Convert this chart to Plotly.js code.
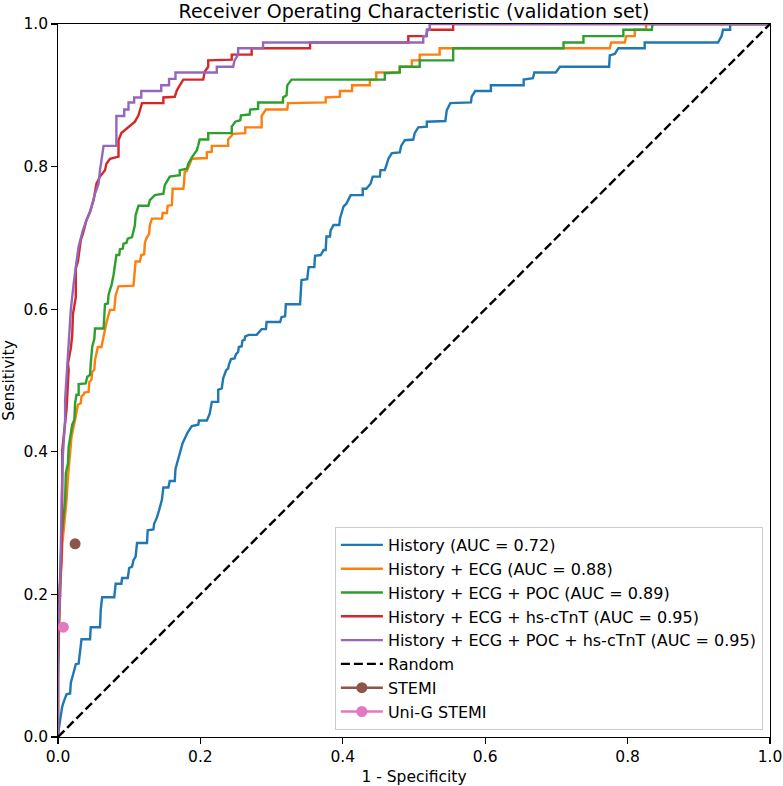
<!DOCTYPE html>
<html>
<head>
<meta charset="utf-8">
<script src="https://cdn.plot.ly/plotly-3.0.1.min.js"></script>
<style>
  html, body { margin: 0; padding: 0; background: #ffffff; }
  #chart { width: 783px; height: 786px; }
</style>
</head>
<body>
<div id="chart"></div>
<script>
// ROC curves on the validation set: false positive rate vs. true positive rate
const historyFpr = [0, 0.000, 0.003, 0.006, 0.009, 0.012, 0.017, 0.018, 0.021, 0.025, 0.029, 0.031, 0.033, 0.045, 0.046, 0.059, 0.060, 0.062, 0.079, 0.081, 0.089, 0.090, 0.098, 0.100, 0.104, 0.106, 0.109, 0.111, 0.125, 0.126, 0.134, 0.135, 0.139, 0.142, 0.146, 0.148, 0.155, 0.157, 0.164, 0.165, 0.170, 0.173, 0.175, 0.182, 0.188, 0.197, 0.198, 0.209, 0.213, 0.216, 0.225, 0.225, 0.230, 0.232, 0.236, 0.239, 0.240, 0.243, 0.248, 0.250, 0.253, 0.254, 0.258, 0.259, 0.262, 0.263, 0.268, 0.279, 0.286, 0.292, 0.293, 0.312, 0.314, 0.319, 0.320, 0.340, 0.341, 0.342, 0.350, 0.352, 0.360, 0.361, 0.369, 0.373, 0.376, 0.377, 0.382, 0.383, 0.387, 0.395, 0.396, 0.398, 0.401, 0.405, 0.411, 0.428, 0.428, 0.433, 0.439, 0.442, 0.452, 0.453, 0.459, 0.462, 0.464, 0.469, 0.480, 0.482, 0.487, 0.499, 0.501, 0.506, 0.518, 0.518, 0.544, 0.546, 0.551, 0.580, 0.581, 0.586, 0.608, 0.608, 0.654, 0.654, 0.667, 0.669, 0.699, 0.705, 0.774, 0.775, 0.782, 0.787, 0.824, 0.824, 0.927, 0.932, 0.934, 0.944, 0.944, 1.0];
const historyTpr = [0, 0.003, 0.024, 0.043, 0.052, 0.060, 0.061, 0.076, 0.087, 0.102, 0.103, 0.117, 0.137, 0.137, 0.154, 0.154, 0.178, 0.196, 0.196, 0.215, 0.215, 0.223, 0.223, 0.237, 0.239, 0.248, 0.253, 0.272, 0.272, 0.290, 0.291, 0.299, 0.308, 0.318, 0.333, 0.350, 0.350, 0.359, 0.359, 0.376, 0.393, 0.402, 0.412, 0.427, 0.436, 0.438, 0.444, 0.444, 0.453, 0.470, 0.470, 0.487, 0.489, 0.503, 0.514, 0.517, 0.522, 0.530, 0.531, 0.537, 0.540, 0.547, 0.548, 0.556, 0.557, 0.562, 0.564, 0.564, 0.572, 0.572, 0.582, 0.582, 0.589, 0.590, 0.607, 0.607, 0.632, 0.641, 0.642, 0.659, 0.659, 0.675, 0.676, 0.683, 0.683, 0.702, 0.702, 0.711, 0.718, 0.718, 0.727, 0.734, 0.744, 0.748, 0.760, 0.760, 0.769, 0.769, 0.776, 0.786, 0.786, 0.795, 0.795, 0.804, 0.811, 0.819, 0.820, 0.829, 0.837, 0.838, 0.847, 0.855, 0.856, 0.863, 0.864, 0.879, 0.889, 0.890, 0.898, 0.906, 0.906, 0.914, 0.914, 0.922, 0.924, 0.932, 0.932, 0.940, 0.940, 0.956, 0.958, 0.966, 0.966, 0.974, 0.974, 0.983, 0.992, 0.992, 1.000, 1.0];

const ecgFpr = [0, 0.000, 0.003, 0.006, 0.008, 0.010, 0.012, 0.014, 0.017, 0.019, 0.024, 0.026, 0.028, 0.032, 0.033, 0.036, 0.037, 0.043, 0.044, 0.047, 0.048, 0.051, 0.052, 0.054, 0.056, 0.061, 0.064, 0.066, 0.068, 0.073, 0.079, 0.081, 0.085, 0.106, 0.107, 0.109, 0.115, 0.117, 0.121, 0.122, 0.124, 0.128, 0.129, 0.132, 0.146, 0.147, 0.153, 0.154, 0.160, 0.161, 0.176, 0.177, 0.178, 0.181, 0.188, 0.209, 0.209, 0.216, 0.216, 0.239, 0.239, 0.246, 0.263, 0.263, 0.286, 0.286, 0.292, 0.322, 0.323, 0.376, 0.376, 0.396, 0.396, 0.413, 0.413, 0.438, 0.438, 0.447, 0.447, 0.480, 0.480, 0.497, 0.497, 0.508, 0.508, 0.536, 0.536, 0.775, 0.777, 0.796, 0.798, 0.810, 0.810, 0.826, 0.826, 1.0];
const ecgTpr = [0, 0.100, 0.200, 0.270, 0.290, 0.310, 0.332, 0.365, 0.393, 0.421, 0.445, 0.454, 0.466, 0.468, 0.478, 0.480, 0.483, 0.484, 0.498, 0.501, 0.512, 0.515, 0.529, 0.538, 0.547, 0.547, 0.564, 0.573, 0.581, 0.599, 0.599, 0.620, 0.632, 0.633, 0.650, 0.667, 0.667, 0.676, 0.677, 0.693, 0.699, 0.706, 0.718, 0.727, 0.727, 0.735, 0.735, 0.745, 0.746, 0.769, 0.769, 0.776, 0.793, 0.794, 0.811, 0.812, 0.820, 0.821, 0.829, 0.829, 0.838, 0.846, 0.847, 0.855, 0.855, 0.871, 0.880, 0.880, 0.889, 0.890, 0.897, 0.898, 0.906, 0.906, 0.914, 0.914, 0.922, 0.922, 0.932, 0.932, 0.940, 0.940, 0.949, 0.949, 0.957, 0.957, 0.966, 0.966, 0.974, 0.974, 0.983, 0.983, 0.992, 0.992, 1.0, 1.0];

const pocFpr = [0, 0.000, 0.002, 0.005, 0.008, 0.010, 0.011, 0.014, 0.015, 0.018, 0.020, 0.023, 0.024, 0.026, 0.029, 0.029, 0.039, 0.041, 0.045, 0.046, 0.048, 0.051, 0.052, 0.064, 0.065, 0.066, 0.070, 0.071, 0.073, 0.075, 0.078, 0.080, 0.082, 0.086, 0.087, 0.091, 0.092, 0.096, 0.098, 0.104, 0.106, 0.108, 0.109, 0.113, 0.127, 0.129, 0.136, 0.148, 0.150, 0.157, 0.171, 0.171, 0.181, 0.183, 0.188, 0.195, 0.197, 0.199, 0.211, 0.211, 0.244, 0.244, 0.249, 0.256, 0.257, 0.269, 0.270, 0.281, 0.281, 0.316, 0.316, 0.321, 0.322, 0.328, 0.459, 0.459, 0.480, 0.480, 0.508, 0.508, 0.555, 0.555, 0.710, 0.710, 0.738, 0.738, 0.794, 0.794, 0.834, 0.835, 1.0];
const pocTpr = [0, 0.080, 0.200, 0.280, 0.310, 0.332, 0.370, 0.384, 0.407, 0.426, 0.438, 0.445, 0.468, 0.480, 0.480, 0.495, 0.496, 0.505, 0.508, 0.524, 0.547, 0.558, 0.573, 0.573, 0.599, 0.607, 0.608, 0.620, 0.627, 0.633, 0.648, 0.662, 0.676, 0.676, 0.684, 0.685, 0.692, 0.693, 0.699, 0.701, 0.711, 0.718, 0.732, 0.745, 0.745, 0.753, 0.760, 0.762, 0.774, 0.786, 0.788, 0.795, 0.797, 0.804, 0.813, 0.823, 0.830, 0.838, 0.838, 0.847, 0.847, 0.856, 0.863, 0.865, 0.872, 0.873, 0.880, 0.881, 0.890, 0.890, 0.897, 0.900, 0.914, 0.922, 0.922, 0.931, 0.932, 0.940, 0.940, 0.949, 0.949, 0.966, 0.966, 0.974, 0.974, 0.983, 0.983, 0.992, 0.992, 1.0, 1.0];

const tntFpr = [0, 0.000, 0.002, 0.005, 0.006, 0.006, 0.009, 0.012, 0.015, 0.014, 0.018, 0.020, 0.021, 0.025, 0.025, 0.028, 0.032, 0.035, 0.040, 0.045, 0.050, 0.054, 0.059, 0.066, 0.068, 0.073, 0.085, 0.085, 0.089, 0.096, 0.108, 0.113, 0.118, 0.148, 0.148, 0.164, 0.167, 0.171, 0.176, 0.204, 0.206, 0.211, 0.211, 0.244, 0.244, 0.272, 0.272, 0.354, 0.354, 0.492, 0.492, 0.517, 0.519, 0.555, 0.555, 1.0];
const tntTpr = [0, 0.100, 0.200, 0.250, 0.332, 0.403, 0.431, 0.459, 0.515, 0.524, 0.545, 0.564, 0.593, 0.617, 0.657, 0.667, 0.697, 0.706, 0.725, 0.737, 0.753, 0.776, 0.786, 0.795, 0.804, 0.811, 0.814, 0.837, 0.847, 0.853, 0.863, 0.872, 0.889, 0.889, 0.897, 0.898, 0.907, 0.914, 0.922, 0.922, 0.933, 0.940, 0.949, 0.950, 0.957, 0.957, 0.966, 0.966, 0.974, 0.974, 0.983, 0.983, 0.992, 0.992, 1.0, 1.0];

const pocTntFpr = [0, 0.000, 0.003, 0.004, 0.005, 0.007, 0.010, 0.010, 0.012, 0.014, 0.017, 0.018, 0.022, 0.024, 0.026, 0.029, 0.035, 0.040, 0.045, 0.052, 0.057, 0.059, 0.064, 0.082, 0.082, 0.093, 0.093, 0.099, 0.099, 0.107, 0.107, 0.117, 0.117, 0.145, 0.145, 0.156, 0.156, 0.165, 0.165, 0.223, 0.223, 0.246, 0.248, 0.253, 0.253, 0.288, 0.288, 0.513, 0.513, 0.518, 0.518, 0.522, 0.522, 1.0];
const pocTntTpr = [0, 0.150, 0.200, 0.300, 0.332, 0.398, 0.445, 0.473, 0.505, 0.522, 0.575, 0.599, 0.636, 0.657, 0.667, 0.688, 0.711, 0.725, 0.736, 0.762, 0.776, 0.795, 0.829, 0.829, 0.871, 0.871, 0.880, 0.880, 0.890, 0.890, 0.897, 0.897, 0.906, 0.906, 0.914, 0.914, 0.923, 0.923, 0.932, 0.932, 0.940, 0.940, 0.949, 0.957, 0.966, 0.966, 0.974, 0.974, 0.983, 0.983, 0.992, 0.992, 1.0, 1.0];

// Chance diagonal
const randomX = [0, 1];
const randomY = [0, 1];

// Single operating points of the STEMI criteria
const stemiX = [0.024];
const stemiY = [0.271];
const uniGX = [0.0075];
const uniGY = [0.154];

const curveNames = [
  'History (AUC = 0.72)',
  'History + ECG (AUC = 0.88)',
  'History + ECG + POC (AUC = 0.89)',
  'History + ECG + hs-cTnT (AUC = 0.95)',
  'History + ECG + POC + hs-cTnT (AUC = 0.95)'
];
const curveColors = ['#1f77b4', '#ff7f0e', '#2ca02c', '#d62728', '#9467bd'];
const curveX = [historyFpr, ecgFpr, pocFpr, tntFpr, pocTntFpr];
const curveY = [historyTpr, ecgTpr, pocTpr, tntTpr, pocTntTpr];

const LW = 2.4;

const traces = curveX.map((xs, i) => ({
  x: xs, y: curveY[i], type: 'scatter', mode: 'lines',
  name: curveNames[i], legendgroup: 'g' + i,
  line: { color: curveColors[i], width: LW }
}));

traces.push({
  x: randomX, y: randomY, type: 'scatter', mode: 'lines',
  name: 'Random', legendgroup: 'g5',
  line: { color: '#000000', width: LW, dash: '9px,4px' }
});
traces.push({
  x: stemiX, y: stemiY, type: 'scatter', mode: 'lines+markers',
  name: 'STEMI', legendgroup: 'g6',
  line: { color: '#8c564b', width: LW },
  marker: { color: '#8c564b', size: 11 }
});
traces.push({
  x: uniGX, y: uniGY, type: 'scatter', mode: 'lines+markers',
  name: 'Uni-G STEMI', legendgroup: 'g7',
  line: { color: '#e377c2', width: LW },
  marker: { color: '#e377c2', size: 11 }
});

const fontFamily = 'DejaVu Sans, sans-serif';
const tickSize = 15.5;
const labelSize = 15.5;

const layout = {
  width: 783,
  height: 786,
  margin: { l: 58, r: 13, t: 24, b: 49, pad: 0 },
  paper_bgcolor: '#ffffff',
  plot_bgcolor: '#ffffff',
  font: { family: fontFamily, size: tickSize, color: '#000000' },
  title: {
    text: 'Receiver Operating Characteristic (validation set)',
    font: { family: fontFamily, size: 19, color: '#000000' },
    x: 414 / 783, xanchor: 'center',
    y: 1 - 11 / 786, yref: 'container', yanchor: 'middle'
  },
  xaxis: {
    range: [0, 1],
    tickvals: [0, 0.2, 0.4, 0.6, 0.8, 1.0],
    ticktext: ['0.0', '0.2', '0.4', '0.6', '0.8', '1.0'],
    ticks: 'outside', ticklen: 5.6, tickwidth: 1.2, tickcolor: '#000000',
    showline: true, linecolor: '#000000', linewidth: 1.2, mirror: true,
    showgrid: false, zeroline: false,
    tickfont: { family: fontFamily, size: tickSize },
    title: { text: '1 - Specificity', font: { family: fontFamily, size: labelSize }, standoff: 6 }
  },
  yaxis: {
    range: [0, 1],
    tickvals: [0, 0.2, 0.4, 0.6, 0.8, 1.0],
    ticktext: ['0.0', '0.2', '0.4', '0.6', '0.8', '1.0'],
    ticks: 'outside', ticklen: 5.6, tickwidth: 1.2, tickcolor: '#000000',
    showline: true, linecolor: '#000000', linewidth: 1.2, mirror: true,
    showgrid: false, zeroline: false,
    tickfont: { family: fontFamily, size: tickSize },
    title: { text: 'Sensitivity', font: { family: fontFamily, size: labelSize }, standoff: 8 }
  },
  showlegend: true,
  legend: {
    x: 0.99, xanchor: 'right',
    y: 0.0098, yanchor: 'bottom',
    bgcolor: 'rgba(255,255,255,0.8)',
    bordercolor: '#cccccc', borderwidth: 1,
    font: { family: fontFamily, size: 16, color: '#000000' },
    itemwidth: 42,
    tracegroupgap: 0,
    traceorder: 'normal'
  }
};

Plotly.newPlot('chart', traces, layout, { displayModeBar: false, staticPlot: true });
</script>
</body>
</html>
